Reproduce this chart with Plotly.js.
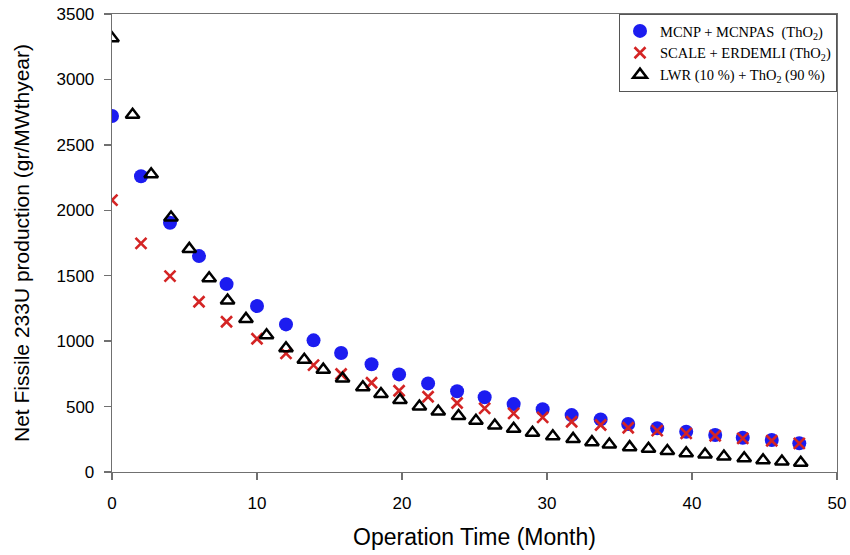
<!DOCTYPE html>
<html>
<head>
<meta charset="utf-8">
<script src="https://cdn.plot.ly/plotly-3.0.1.min.js"></script>
<style>html,body{margin:0;padding:0;background:#fff;}#chart{width:850px;height:555px;}</style>
</head>
<body>
<div id="chart"></div>
<script>
// MCNP + MCNPAS (ThO2)
const mcnpX = [0, 2, 4, 6, 7.9, 10, 12, 13.9, 15.8, 17.9, 19.8, 21.8, 23.8, 25.7, 27.7, 29.7, 31.7, 33.7, 35.6, 37.6, 39.6, 41.6, 43.5, 45.5, 47.4];
const mcnpY = [2720, 2260, 1905, 1650, 1436, 1268, 1128, 1006, 909, 823, 746, 677, 617, 571, 519, 479, 435, 402, 367, 334, 308, 283, 262, 244, 219];
// SCALE + ERDEMLI (ThO2)
const scaleX = [0, 2, 4, 6, 7.9, 10, 12, 13.9, 15.8, 17.9, 19.8, 21.8, 23.8, 25.7, 27.7, 29.7, 31.7, 33.7, 35.6, 37.6, 39.6, 41.6, 43.5, 45.5, 47.4];
const scaleY = [2078, 1747, 1497, 1301, 1148, 1018, 907, 817, 749, 682, 621, 575, 527, 486, 448, 418, 384, 359, 338, 316, 295, 277, 257, 239, 219];
// LWR (10 %) + ThO2 (90 %)
const lwrX = [0, 1.42, 2.7, 4.07, 5.33, 6.7, 7.97, 9.24, 10.66, 12.0, 13.26, 14.57, 15.9, 17.3, 18.55, 19.86, 21.2, 22.5, 23.9, 25.1, 26.4, 27.7, 29.0, 30.4, 31.8, 33.1, 34.3, 35.7, 37.0, 38.3, 39.6, 40.9, 42.2, 43.6, 44.9, 46.2, 47.5];
const lwrY = [3315, 2730, 2275, 1945, 1705, 1480, 1310, 1170, 1045, 945, 858, 782, 715, 648, 596, 550, 500, 462, 428, 392, 355, 330, 300, 273, 253, 228, 210, 190, 177, 160, 143, 133, 118, 105, 89, 80, 70];

const seriesNames = [
  'MCNP + MCNPAS&nbsp;&nbsp;(ThO<sub>2</sub>)',
  'SCALE + ERDEMLI (ThO<sub>2</sub>)',
  'LWR (10 %) + ThO<sub>2</sub> (90 %)'
];
const xTicks = [0, 10, 20, 30, 40, 50];
const yTicks = [0, 500, 1000, 1500, 2000, 2500, 3000, 3500];

const traces = [
  {x: mcnpX, y: mcnpY, name: seriesNames[0], mode: 'markers', type: 'scatter',
   marker: {symbol: 'circle', size: 14, color: '#1c1cf0', line: {width: 0}}},
  {x: scaleX, y: scaleY, name: seriesNames[1], mode: 'markers', type: 'scatter',
   marker: {symbol: 'x-thin-open', size: 11, color: '#d42424', line: {width: 2.6, color: '#d42424'}}},
  {x: lwrX, y: lwrY, name: seriesNames[2], mode: 'markers', type: 'scatter',
   marker: {symbol: 'triangle-up-open', size: 12, color: '#000', line: {width: 2.5, color: '#000'}}}
];

const axisCommon = {
  showline: true, mirror: true, linecolor: '#707070', linewidth: 1.3,
  ticks: 'outside', ticklen: 7, tickcolor: '#707070', tickwidth: 1.3,
  showgrid: false, zeroline: false, automargin: false,
  tickfont: {family: 'Liberation Sans, Arial, sans-serif', size: 17, color: '#000'}
};

const layout = {
  width: 850, height: 555,
  margin: {l: 112, r: 13, t: 14, b: 83},
  paper_bgcolor: '#fff', plot_bgcolor: '#fff',
  showlegend: true,
  legend: {
    x: 1, y: 1, xanchor: 'right', yanchor: 'top',
    bgcolor: '#fff', bordercolor: '#555', borderwidth: 1,
    font: {family: 'Liberation Serif, Times New Roman, serif', size: 14.5, color: '#000'},
    traceorder: 'normal', tracegroupgap: 0, itemwidth: 30
  },
  xaxis: Object.assign({}, axisCommon, {
    range: [0, 50], tickvals: xTicks, ticktext: xTicks.map(String), ticklabelstandoff: 8,
    title: {text: 'Operation Time (Month)', font: {family: 'Liberation Sans, Arial, sans-serif', size: 23, color: '#000'}, standoff: 17}
  }),
  yaxis: Object.assign({}, axisCommon, {
    range: [0, 3500], tickvals: yTicks, ticktext: yTicks.map(String), ticklabelstandoff: 6,
    title: {text: 'Net Fissile 233U production (gr/MWthyear)', font: {family: 'Liberation Sans, Arial, sans-serif', size: 21, color: '#000'}, standoff: 21}
  })
};

Plotly.newPlot('chart', traces, layout, {displayModeBar: false, staticPlot: true});
</script>
</body>
</html>
